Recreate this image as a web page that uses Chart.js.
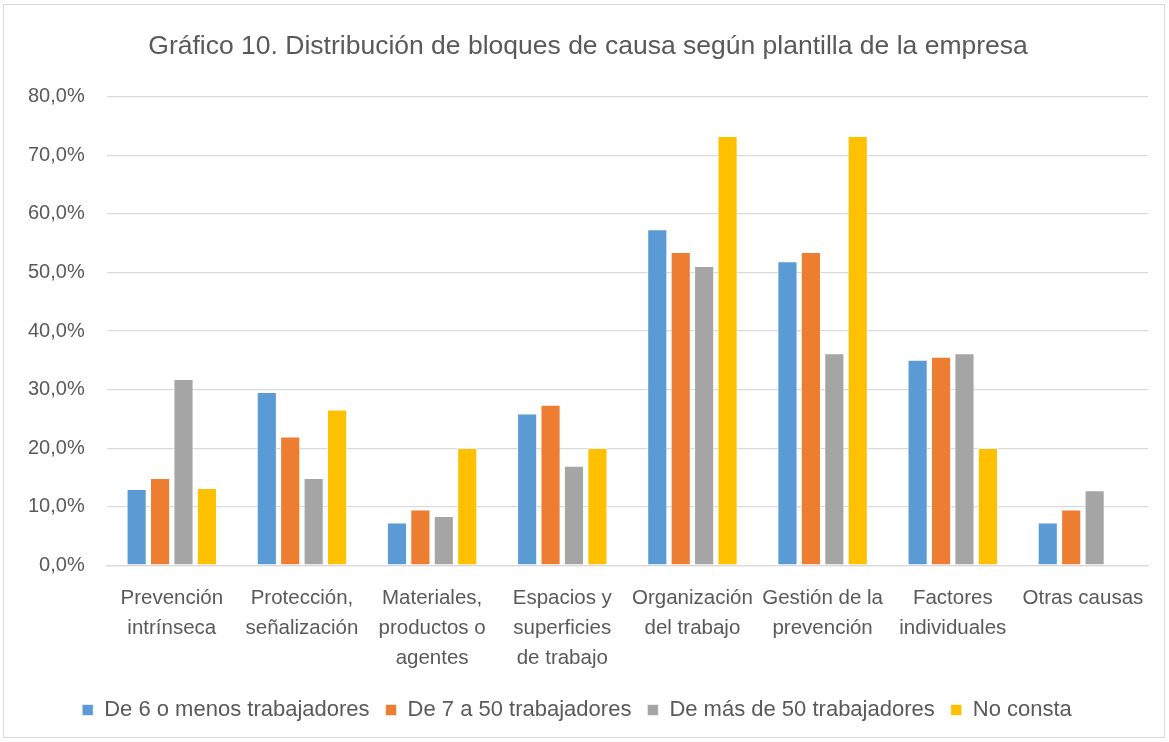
<!DOCTYPE html>
<html>
<head>
<meta charset="utf-8">
<script src="https://cdn.jsdelivr.net/npm/chart.js@4"></script>
<style>
    html, body { margin: 0; padding: 0; background: #fff; }
    #wrap {
        position: absolute; left: 3px; top: 4px;
        width: 1162px; height: 734px;
        border: 1px solid #d9d9d9;
        box-sizing: border-box;
    }
    canvas { display: block; }
</style>
</head>
<body>
<div id="wrap"><canvas id="chart"></canvas></div>
<script>
// Categorías (eje X)
const categories = [
    ['Prevención', 'intrínseca'],
    ['Protección,', 'señalización'],
    ['Materiales,', 'productos o', 'agentes'],
    ['Espacios y', 'superficies', 'de trabajo'],
    ['Organización', 'del trabajo'],
    ['Gestión de la', 'prevención'],
    ['Factores', 'individuales'],
    ['Otras causas']
];

// Series (%)
const seriesNames = ['De 6 o menos trabajadores', 'De 7 a 50 trabajadores', 'De más de 50 trabajadores', 'No consta'];
const menos6 = [13.0, 29.6, 7.3, 25.9, 57.4, 51.9, 35.1, 7.3];
const de7a50 = [14.9, 22.0, 9.5, 27.4, 53.5, 53.5, 35.6, 9.5];
const mas50 = [31.8, 14.9, 8.4, 17.0, 51.1, 36.2, 36.2, 12.8];
const noConsta = [13.2, 26.6, 20.0, 20.0, 73.3, 73.3, 20.0, 0];

const colors = ['#5b9bd5', '#ed7d31', '#a5a5a5', '#ffc000'];
const textColor = '#595959';
const fontFamily = '"Liberation Sans", Arial, sans-serif';

const ctx = document.getElementById('chart').getContext('2d');

new Chart(ctx, {
    type: 'bar',
    data: {
        labels: categories,
        datasets: [menos6, de7a50, mas50, noConsta].map((values, i) => ({
            label: seriesNames[i],
            data: values,
            backgroundColor: colors[i],
            borderColor: 'rgba(255,255,255,0.6)',
            borderWidth: 1,
            categoryPercentage: 0.72,
            barPercentage: 0.86
        }))
    },
    options: {
        responsive: true,
        maintainAspectRatio: false,
        animation: false,
        layout: {
            padding: { left: 2, right: 16, top: 10, bottom: 6 }
        },
        plugins: {
            title: {
                display: true,
                text: '\u00a0\u00a0\u00a0Gráfico 10. Distribución de bloques de causa según plantilla de la empresa',
                color: textColor,
                font: { family: fontFamily, size: 26.5, weight: 'normal' },
                padding: { top: 16, bottom: 34 }
            },
            legend: {
                position: 'bottom',
                labels: {
                    color: textColor,
                    font: { family: fontFamily, size: 22 },
                    boxWidth: 11,
                    boxHeight: 11,
                    padding: 16
                }
            },
            tooltip: { enabled: true }
        },
        scales: {
            y: {
                min: 0,
                max: 80,
                ticks: {
                    stepSize: 10,
                    color: textColor,
                    padding: 22,
                    font: { family: fontFamily, size: 20 },
                    callback: function(value) {
                        return value.toFixed(1).replace('.', ',') + '%';
                    }
                },
                grid: { color: '#d9d9d9', lineWidth: 1.2, drawTicks: false },
                border: { display: false }
            },
            x: {
                ticks: {
                    color: textColor,
                    font: { family: fontFamily, size: 20.5, lineHeight: 1.46 },
                    maxRotation: 0,
                    autoSkip: false,
                    padding: 10
                },
                grid: { display: false },
                border: { color: '#d9d9d9', width: 1.2 }
            }
        }
    }
});
</script>
</body>
</html>
